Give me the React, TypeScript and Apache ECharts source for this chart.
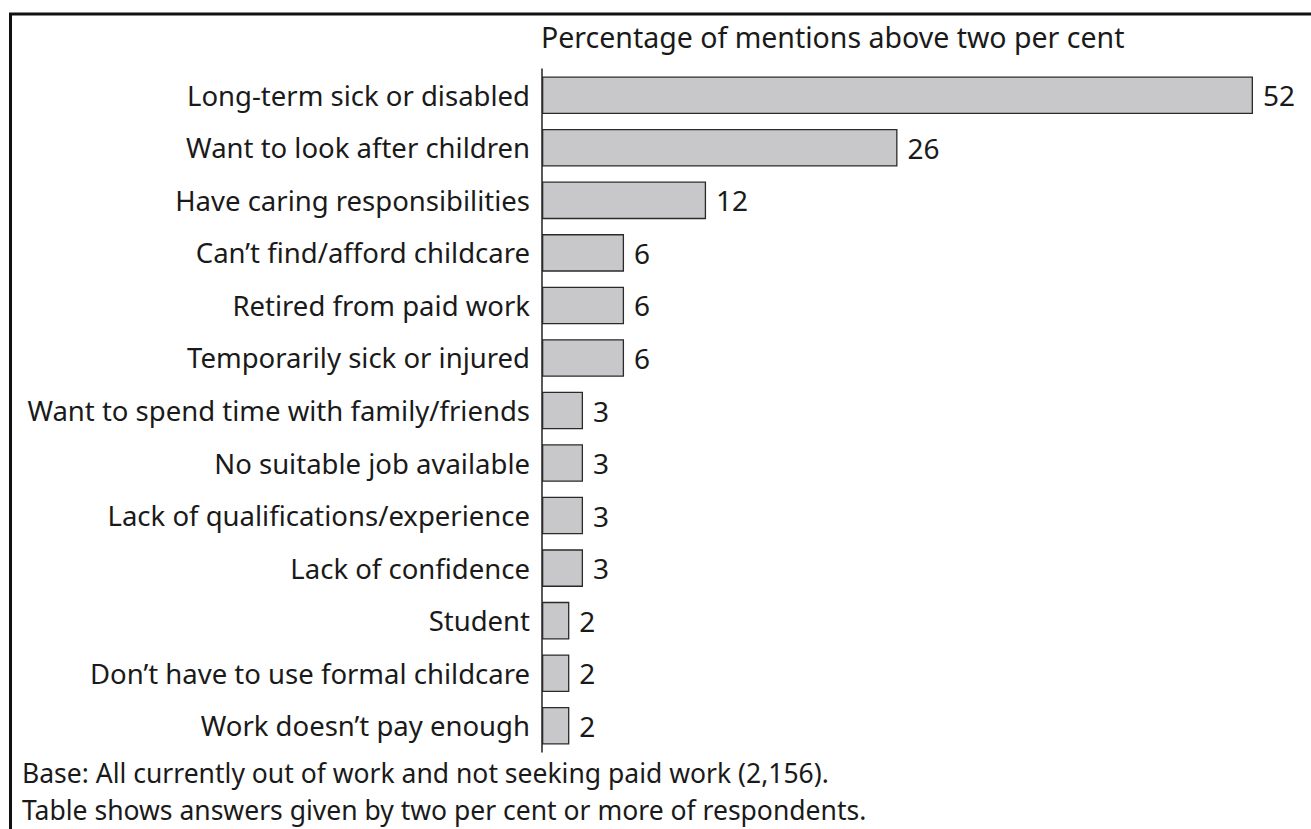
import React, { useEffect, useRef } from "react";
import * as echarts from "echarts";

const categories = [
  "Long-term sick or disabled",
  "Want to look after children",
  "Have caring responsibilities",
  "Can’t find/afford childcare",
  "Retired from paid work",
  "Temporarily sick or injured",
  "Want to spend time with family/friends",
  "No suitable job available",
  "Lack of qualifications/experience",
  "Lack of confidence",
  "Student",
  "Don’t have to use formal childcare",
  "Work doesn’t pay enough",
];

const values = [52, 26, 12, 6, 6, 6, 3, 3, 3, 3, 2, 2, 2];

const titleText = "Percentage of mentions above two per cent";
const footnotes = [
  "Base: All currently out of work and not seeking paid work (2,156).",
  "Table shows answers given by two per cent or more of respondents.",
];

const FONT = "'Noto Sans', 'Open Sans', sans-serif";
const TEXT = "#1a1a1a";

export default function App() {
  const ref = useRef<HTMLDivElement>(null);

  useEffect(() => {
    if (!ref.current) return;
    const chart = echarts.init(ref.current, null, { renderer: "svg" });
    chart.setOption({
      animation: false,
      backgroundColor: "#ffffff",
      grid: { left: 542, top: 69, right: 17, bottom: 77, containLabel: false },
      xAxis: {
        type: "value",
        min: 0,
        max: 55,
        show: false,
      },
      yAxis: {
        type: "category",
        data: categories,
        inverse: true,
        axisLine: { show: true, lineStyle: { color: "#222", width: 1.5 } },
        axisTick: { show: false },
        axisLabel: {
          color: TEXT,
          fontFamily: FONT,
          fontSize: 27.5,
          margin: 12,
        },
        splitLine: { show: false },
      },
      series: [
        {
          type: "bar",
          data: values,
          barCategoryGap: "28.5%",
          itemStyle: { color: "#c8c8ca", borderColor: "#2a2a2a", borderWidth: 1.3 },
          label: {
            show: true,
            position: "right",
            distance: 10,
            color: TEXT,
            fontFamily: FONT,
            fontSize: 28,
          },
        },
      ],
      graphic: [
        {
          type: "line",
          shape: { x1: 9, y1: 14, x2: 1311, y2: 14 },
          style: { stroke: "#111", lineWidth: 3 },
        },
        {
          type: "line",
          shape: { x1: 10.5, y1: 13, x2: 10.5, y2: 829 },
          style: { stroke: "#111", lineWidth: 3 },
        },
        {
          type: "text",
          left: 541,
          top: 22,
          style: { text: titleText, fill: TEXT, font: `28.5px ${FONT}` },
        },
        {
          type: "text",
          left: 22,
          top: 755,
          style: {
            text: footnotes[0],
            fill: TEXT,
            fontFamily: FONT,
            fontSize: 26.5,
            lineHeight: 36,
          },
        },
        {
          type: "text",
          left: 22,
          top: 792,
          style: {
            text: footnotes[1],
            fill: TEXT,
            fontFamily: FONT,
            fontSize: 26.5,
            lineHeight: 36,
          },
        },
      ],
    });
    return () => chart.dispose();
  }, []);

  return (
    <div
      ref={ref}
      style={{ position: "absolute", left: 0, top: 0, width: 1311, height: 829 }}
    />
  );
}
